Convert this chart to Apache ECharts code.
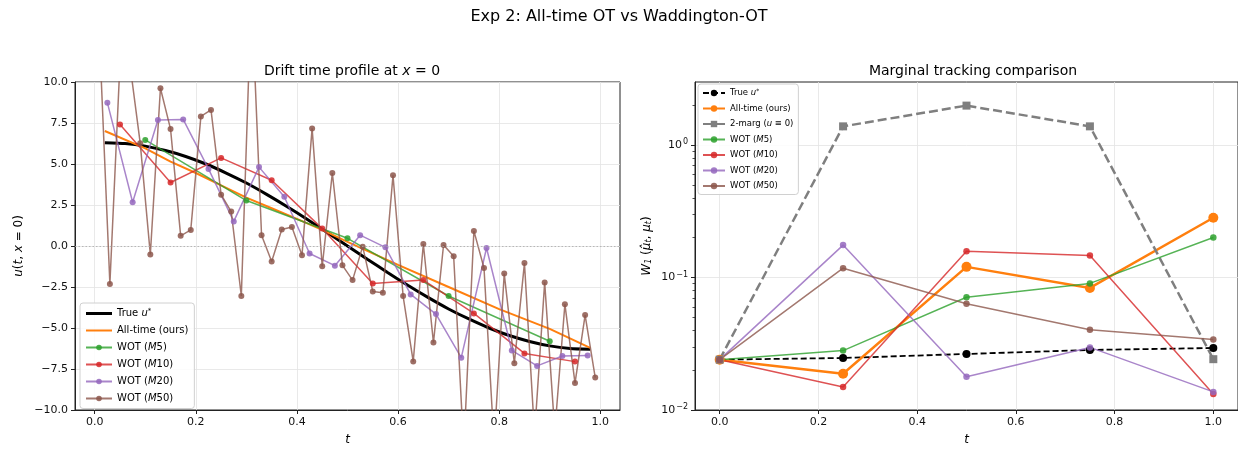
<!DOCTYPE html>
<html>
<head>
<meta charset="utf-8">
<script src="https://cdn.jsdelivr.net/npm/echarts@6.0.0/dist/echarts.min.js"></script>
<style>
  html, body { margin: 0; padding: 0; background: #fff; }
  #chart { width: 1238px; height: 451px; }
</style>
</head>
<body>
<div id="chart"></div>
<script>
// ---- left panel: drift u(t, x=0) ----
const tTrue = [0.02, 0.06, 0.10, 0.14, 0.18, 0.22, 0.26, 0.30, 0.34, 0.38, 0.42, 0.46, 0.50,
  0.54, 0.58, 0.62, 0.66, 0.70, 0.74, 0.78, 0.82, 0.86, 0.90, 0.94, 0.98];
const uTrue = [6.30, 6.25, 6.09, 5.82, 5.46, 5.00, 4.45, 3.84, 3.15, 2.41, 1.63, 0.82, 0.00,
  -0.82, -1.63, -2.41, -3.15, -3.84, -4.45, -5.00, -5.46, -5.82, -6.09, -6.25, -6.30];

const tAll = [0.02, 0.10, 0.15, 0.20, 0.25, 0.30, 0.35, 0.40, 0.45, 0.50, 0.60, 0.70, 0.80, 0.90, 0.98];
const uAll = [7.01, 5.95, 5.15, 4.45, 3.70, 2.95, 2.30, 1.65, 0.98, 0.25, -1.15, -2.50, -3.85, -5.05, -6.21];

const tM5 = [0.1, 0.3, 0.5, 0.7, 0.9];
const uM5 = [6.47, 2.77, 0.47, -3.05, -5.81];

const tM10 = [0.05, 0.15, 0.25, 0.35, 0.45, 0.55, 0.65, 0.75, 0.85, 0.95];
const uM10 = [7.41, 3.87, 5.37, 4.01, 1.06, -2.28, -2.08, -4.11, -6.55, -7.05];

const tM20 = [0.025, 0.075, 0.125, 0.175, 0.225, 0.275, 0.325, 0.375, 0.425, 0.475,
  0.525, 0.575, 0.625, 0.675, 0.725, 0.775, 0.825, 0.875, 0.925, 0.975];
const uM20 = [8.74, 2.67, 7.68, 7.72, 4.70, 1.50, 4.81, 3.00, -0.46, -1.20,
  0.66, -0.08, -2.95, -4.15, -6.81, -0.12, -6.37, -7.31, -6.71, -6.67];

const tM50 = [0.01, 0.03, 0.05, 0.07, 0.09, 0.11, 0.13, 0.15, 0.17, 0.19,
  0.21, 0.23, 0.25, 0.27, 0.29, 0.31, 0.33, 0.35, 0.37, 0.39,
  0.41, 0.43, 0.45, 0.47, 0.49, 0.51, 0.53, 0.55, 0.57, 0.59,
  0.61, 0.63, 0.65, 0.67, 0.69, 0.71, 0.73, 0.75, 0.77, 0.79,
  0.81, 0.83, 0.85, 0.87, 0.89, 0.91, 0.93, 0.95, 0.97, 0.99];
const uM50 = [12.3, -2.32, 11.2, 11.0, 6.27, -0.52, 9.62, 7.13, 0.62, 0.98,
  7.90, 8.30, 3.13, 2.10, -3.05, 15.5, 0.66, -0.94, 1.00, 1.16,
  -0.56, 7.17, -1.24, 4.45, -1.18, -2.08, -0.04, -2.77, -2.85, 4.31,
  -3.05, -7.05, 0.12, -5.89, 0.06, -0.62, -12.4, 0.92, -1.34, -12.1,
  -1.68, -7.15, -1.04, -11.5, -2.22, -11.3, -3.55, -8.36, -4.21, -8.02];

// ---- right panel: W1 marginal error ----
const tMarg = [0, 0.25, 0.5, 0.75, 1.0];
const w1True = [0.0240, 0.0247, 0.0265, 0.0284, 0.0294];
const w1All = [0.0240, 0.0188, 0.1205, 0.0835, 0.283];
const w1TwoMarg = [0.0240, 1.387, 1.99, 1.387, 0.0242];
const w1M5 = [0.0240, 0.0281, 0.0711, 0.0904, 0.201];
const w1M10 = [0.0240, 0.0149, 0.158, 0.147, 0.0132];
const w1M20 = [0.0240, 0.176, 0.0178, 0.0297, 0.0137];
const w1M50 = [0.0240, 0.1178, 0.0634, 0.0403, 0.0341];

// tick labels
const xTicks = [0, 0.2, 0.4, 0.6, 0.8, 1.0];
const yTicksRight = [0.01, 0.1, 1];
const yMinorRight = [0.02, 0.03, 0.04, 0.05, 0.06, 0.07, 0.08, 0.09,
  0.2, 0.3, 0.4, 0.5, 0.6, 0.7, 0.8, 0.9, 2];

const FONT = 'DejaVu Sans';
const C = {
  orange: '#ff7f0e', green: '#2ca02c', red: '#d62728',
  purple: '#9467bd', brown: '#8c564b', gray: '#7f7f7f'
};

const pairs = (xs, ys) => xs.map((x, i) => [x, ys[i]]);
const minus = v => (v < 0 ? '\u2212' : '') + Math.abs(v).toFixed(1);

// legend display text (rich)
const legendText = {
  lTrue: '{n|True }{i|u}{s|*}',
  lAll: '{n|All-time (ours)}',
  lM5: '{n|WOT (}{i|M}{n|5)}',
  lM10: '{n|WOT (}{i|M}{n|10)}',
  lM20: '{n|WOT (}{i|M}{n|20)}',
  lM50: '{n|WOT (}{i|M}{n|50)}',
  rTrue: '{n|True }{i|u}{s|*}',
  rAll: '{n|All-time (ours)}',
  rTwo: '{n|2-marg (}{i|u}{n| ≡ 0)}',
  rM5: '{n|WOT (}{i|M}{n|5)}',
  rM10: '{n|WOT (}{i|M}{n|10)}',
  rM20: '{n|WOT (}{i|M}{n|20)}',
  rM50: '{n|WOT (}{i|M}{n|50)}'
};

const legendRich = size => ({
  n: { fontSize: size, fontFamily: FONT, color: '#000' },
  i: { fontSize: size, fontFamily: FONT, fontStyle: 'italic', color: '#000' },
  s: { fontSize: size * 0.7, fontFamily: FONT, color: '#000', verticalAlign: 'top', padding: [0, 0, 4, 0] }
});

const wotLeft = (name, t, u, color) => ({
  name, type: 'line', xAxisIndex: 0, yAxisIndex: 0,
  data: pairs(t, u),
  symbol: 'circle', symbolSize: 6,
  lineStyle: { width: 1.5, color, opacity: 0.8 },
  itemStyle: { color, opacity: 0.85 },
  emphasis: { disabled: true }
});

const wotRight = (name, w, color) => ({
  name, type: 'line', xAxisIndex: 1, yAxisIndex: 1,
  data: pairs(tMarg, w),
  symbol: 'circle', symbolSize: 6.5,
  lineStyle: { width: 1.5, color, opacity: 0.8 },
  itemStyle: { color, opacity: 0.85 },
  emphasis: { disabled: true }
});

const gridLine = { show: true, lineStyle: { color: '#e3e3e3', width: 0.8 } };
const axisLine = { show: true, onZero: false, lineStyle: { color: '#222', width: 1 } };
const tick = { show: true, length: 4, lineStyle: { color: '#222' } };
const labelStyle = { color: '#111', fontSize: 11, fontFamily: FONT };
const tName = { fontSize: 12, fontFamily: FONT, fontStyle: 'italic', color: '#000' };

const chart = echarts.init(document.getElementById('chart'));

const option = {
  backgroundColor: '#fff',
  animation: false,
  title: [
    { text: 'Exp 2: All-time OT vs Waddington-OT', left: 'center', top: 4,
      textStyle: { fontSize: 16, fontWeight: 'normal', fontFamily: FONT, color: '#000' } },
    { text: '{n|Drift time profile at }{i|x}{n| = 0}', left: 347, top: 59, textAlign: 'center',
      textStyle: { fontWeight: 'normal', rich: {
        n: { fontSize: 14, fontFamily: FONT, fontWeight: 'normal', color: '#000' },
        i: { fontSize: 14, fontFamily: FONT, fontWeight: 'normal', fontStyle: 'italic', color: '#000' } } } },
    { text: 'Marginal tracking comparison', left: 968, top: 59, textAlign: 'center',
      textStyle: { fontSize: 14, fontWeight: 'normal', fontFamily: FONT, color: '#000' } }
  ],
  grid: [
    { left: 75, top: 82, width: 545, height: 331, show: true, borderColor: '#222', borderWidth: 1, backgroundColor: 'transparent' },
    { left: 695, top: 82, width: 546, height: 331, show: true, borderColor: '#222', borderWidth: 1, backgroundColor: 'transparent' }
  ],
  xAxis: [
    { type: 'value', gridIndex: 0, min: -0.039, max: 1.039,
      name: 't', nameLocation: 'middle', nameGap: 24, nameTextStyle: tName,
      axisLine, axisTick: { ...tick, customValues: xTicks },
      axisLabel: { ...labelStyle, customValues: xTicks, formatter: v => v.toFixed(1), margin: 7 },
      splitLine: gridLine },
    { type: 'value', gridIndex: 1, min: -0.05, max: 1.05,
      name: 't', nameLocation: 'middle', nameGap: 24, nameTextStyle: tName,
      axisLine, axisTick: { ...tick, customValues: xTicks },
      axisLabel: { ...labelStyle, customValues: xTicks, formatter: v => v.toFixed(1), margin: 7 },
      splitLine: gridLine }
  ],
  yAxis: [
    { type: 'value', gridIndex: 0, min: -10, max: 10, interval: 2.5,
      name: '{i|u}{n|(}{i|t}{n|, }{i|x}{n| = 0)}', nameLocation: 'middle', nameGap: 50, nameRotate: 90,
      nameTextStyle: { rich: {
        n: { fontSize: 12, fontFamily: FONT, color: '#000' },
        i: { fontSize: 12, fontFamily: FONT, fontStyle: 'italic', color: '#000' } } },
      axisLine, axisTick: tick,
      axisLabel: { ...labelStyle, formatter: minus, margin: 7 },
      splitLine: gridLine },
    { type: 'log', gridIndex: 1, logBase: 10, min: 0.01, max: 3, position: 'left',
      name: '{i|W}{sub|1}{n| (}{i|μ̂}{sub|t}{n|, }{i|μ}{sub|t}{n|)}', nameLocation: 'middle', nameGap: 42, nameRotate: 90,
      nameTextStyle: { rich: {
        n: { fontSize: 12, fontFamily: FONT, color: '#000' },
        i: { fontSize: 12, fontFamily: FONT, fontStyle: 'italic', color: '#000' },
        sub: { fontSize: 8, fontFamily: FONT, fontStyle: 'italic', color: '#000', verticalAlign: 'bottom' } } },
      axisLine, axisTick: { ...tick, customValues: yTicksRight },
      axisLabel: {
        customValues: yTicksRight, margin: 7,
        formatter: v => '{b|10}{s|' + (Math.round(Math.log10(v)) < 0 ? '\u2212' : '') + Math.abs(Math.round(Math.log10(v))) + '}',
        rich: {
          b: { fontSize: 11, fontFamily: FONT, color: '#111' },
          s: { fontSize: 8, fontFamily: FONT, color: '#111', verticalAlign: 'top', padding: [0, 0, 6, 1] }
        }
      },
      splitLine: gridLine },
    { type: 'log', gridIndex: 1, logBase: 10, min: 0.01, max: 3, position: 'left', offset: 0,
      axisLine: { show: false, onZero: false }, axisLabel: { show: false }, splitLine: { show: false },
      axisTick: { show: true, length: 2.5, customValues: yMinorRight, lineStyle: { color: '#222', width: 0.8 } } }
  ],
  legend: [
    { orient: 'vertical', left: 80, top: 303, itemWidth: 26, itemHeight: 7, itemGap: 7,
      padding: [5, 6, 5, 5], backgroundColor: 'rgba(255,255,255,0.85)',
      borderColor: '#d0d0d0', borderWidth: 1, borderRadius: 3,
      data: [
        { name: 'lTrue', icon: 'path://M0,0H26V3H0Z' },
        { name: 'lAll', icon: 'path://M0,0H26V2H0Z' },
        'lM5', 'lM10', 'lM20', 'lM50'
      ],
      formatter: n => legendText[n],
      textStyle: { rich: legendRich(10) } },
    { orient: 'vertical', left: 698, top: 84, itemWidth: 22, itemHeight: 8, itemGap: 6.5,
      padding: [4, 5, 4, 4], backgroundColor: 'rgba(255,255,255,0.85)',
      borderColor: '#d0d0d0', borderWidth: 1, borderRadius: 3,
      data: ['rTrue', 'rAll', 'rTwo', 'rM5', 'rM10', 'rM20', 'rM50'],
      formatter: n => legendText[n],
      textStyle: { rich: legendRich(8.5) } }
  ],
  series: [
    { name: 'lTrue', type: 'line', xAxisIndex: 0, yAxisIndex: 0,
      data: pairs(tTrue, uTrue), symbol: 'none', smooth: 0.2,
      lineStyle: { width: 3, color: '#000' }, itemStyle: { color: '#000' },
      emphasis: { disabled: true },
      markLine: { silent: true, symbol: 'none', label: { show: false },
        lineStyle: { type: [1.5, 2], color: '#aaa', width: 0.8 }, data: [{ yAxis: 0 }] } },
    { name: 'lAll', type: 'line', xAxisIndex: 0, yAxisIndex: 0,
      data: pairs(tAll, uAll), symbol: 'none',
      lineStyle: { width: 2, color: C.orange }, itemStyle: { color: C.orange },
      emphasis: { disabled: true } },
    wotLeft('lM5', tM5, uM5, C.green),
    wotLeft('lM10', tM10, uM10, C.red),
    wotLeft('lM20', tM20, uM20, C.purple),
    wotLeft('lM50', tM50, uM50, C.brown),

    { name: 'rTrue', type: 'line', xAxisIndex: 1, yAxisIndex: 1,
      data: pairs(tMarg, w1True), symbol: 'circle', symbolSize: 8,
      lineStyle: { width: 1.8, color: '#000', type: [6, 3] }, itemStyle: { color: '#000' },
      emphasis: { disabled: true } },
    { name: 'rAll', type: 'line', xAxisIndex: 1, yAxisIndex: 1,
      data: pairs(tMarg, w1All), symbol: 'circle', symbolSize: 10,
      lineStyle: { width: 2.5, color: C.orange }, itemStyle: { color: C.orange },
      emphasis: { disabled: true } },
    { name: 'rTwo', type: 'line', xAxisIndex: 1, yAxisIndex: 1,
      data: pairs(tMarg, w1TwoMarg), symbol: 'rect', symbolSize: 8,
      lineStyle: { width: 2.5, color: C.gray, type: [9, 4] }, itemStyle: { color: C.gray },
      emphasis: { disabled: true } },
    wotRight('rM5', w1M5, C.green),
    wotRight('rM10', w1M10, C.red),
    wotRight('rM20', w1M20, C.purple),
    wotRight('rM50', w1M50, C.brown)
  ]
};

chart.setOption(option);
</script>
</body>
</html>
